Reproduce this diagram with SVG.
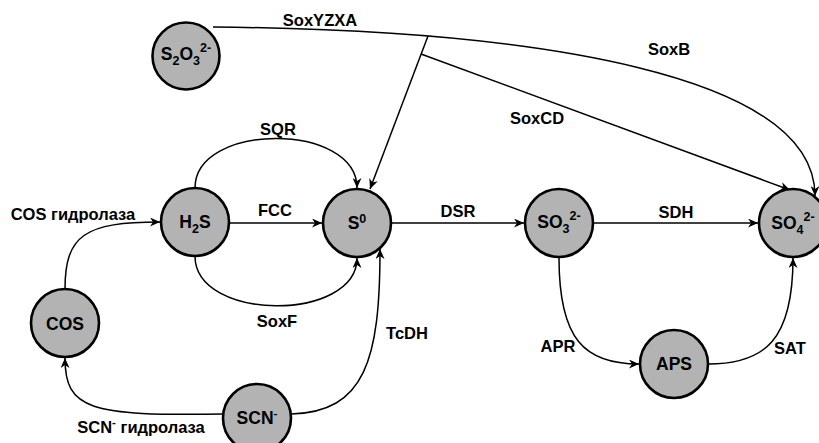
<svg xmlns="http://www.w3.org/2000/svg" width="819" height="443" viewBox="0 0 819 443">
<style>
.node{fill:#b3b3b3;stroke:#000;stroke-width:2.6}
.nt{font-family:"Liberation Sans",Arial,sans-serif;font-weight:bold;font-size:17.5px;text-anchor:middle;fill:#000}
.lb{font-family:"Liberation Sans",Arial,sans-serif;font-weight:bold;font-size:16.5px;text-anchor:middle;fill:#000}
.e{fill:none;stroke:#000;stroke-width:1.5}
.s{font-size:12.5px}
.ls{font-size:11.5px}
</style>
<defs>
<marker id="ar" markerUnits="userSpaceOnUse" markerWidth="11" markerHeight="9" refX="10" refY="4.5" orient="auto" viewBox="0 0 11 9">
<path d="M0,0 L10,4.5 L0,9 L3,4.5 z" fill="#000"/>
</marker>
</defs>
<rect width="819" height="443" fill="#fff"/>
<g id="connectors">
<path class="e" d="M213,27 C540,30 815,75 815,196" marker-end="url(#ar)"/>
<path class="e" d="M428,36 L370,189" marker-end="url(#ar)"/>
<path class="e" d="M421,54 L790,190" marker-end="url(#ar)"/>
<path class="e" d="M195,188 C195,122 357,122 357,188" marker-end="url(#ar)"/>
<path class="e" d="M229,223 L322,223" marker-end="url(#ar)"/>
<path class="e" d="M195,256 C195,322 357,322 357,258" marker-end="url(#ar)"/>
<path class="e" d="M65,289 C65,235 85,222 160,222" marker-end="url(#ar)"/>
<path class="e" d="M223,414 C90,416 65,410 65,358" marker-end="url(#ar)"/>
<path class="e" d="M291,414 C365,412 380,360 380,249" marker-end="url(#ar)"/>
<path class="e" d="M391,223 L524,223" marker-end="url(#ar)"/>
<path class="e" d="M593,223 L758,223" marker-end="url(#ar)"/>
<path class="e" d="M559,258 C559,340 585,364 639,364" marker-end="url(#ar)"/>
<path class="e" d="M708,364 C765,364 793,340 793,258" marker-end="url(#ar)"/>
</g>
<g id="labels">
<text class="lb" x="320" y="26">SoxYZXA</text>
<text class="lb" x="669" y="55">SoxB</text>
<text class="lb" x="537" y="124">SoxCD</text>
<text class="lb" x="278" y="135">SQR</text>
<text class="lb" x="275" y="216">FCC</text>
<text class="lb" x="277" y="327">SoxF</text>
<text class="lb" x="407" y="339">TcDH</text>
<text class="lb" x="73" y="220">COS гидролаза</text>
<text class="lb" x="141" y="433">SCN<tspan class="ls" dy="-7">-</tspan><tspan dy="7"> гидролаза</tspan></text>
<text class="lb" x="458" y="217">DSR</text>
<text class="lb" x="676" y="218">SDH</text>
<text class="lb" x="558" y="352">APR</text>
<text class="lb" x="790" y="354">SAT</text>
</g>
<g id="n-s2o3">
<circle class="node" cx="186" cy="56" r="33.5"/>
<text class="nt" x="186" y="60">S<tspan class="s" dy="5">2</tspan><tspan dy="-5">O</tspan><tspan class="s" dy="5">3</tspan><tspan class="s" dy="-13">2-</tspan></text>
</g>
<g id="n-h2s">
<circle class="node" cx="195" cy="222" r="34"/>
<text class="nt" x="195" y="228">H<tspan class="s" dy="5">2</tspan><tspan dy="-5">S</tspan></text>
</g>
<g id="n-s0">
<circle class="node" cx="357" cy="223" r="34"/>
<text class="nt" x="357" y="229">S<tspan class="s" dy="-6">0</tspan></text>
</g>
<g id="n-so3">
<circle class="node" cx="559" cy="223" r="34"/>
<text class="nt" x="559" y="228">SO<tspan class="s" dy="5">3</tspan><tspan class="s" dy="-13">2-</tspan></text>
</g>
<g id="n-so4">
<circle class="node" cx="793" cy="223" r="34"/>
<text class="nt" x="793" y="229">SO<tspan class="s" dy="5">4</tspan><tspan class="s" dy="-13">2-</tspan></text>
</g>
<g id="n-cos">
<circle class="node" cx="65" cy="323" r="34"/>
<text class="nt" x="65" y="330">COS</text>
</g>
<g id="n-aps">
<circle class="node" cx="674" cy="364" r="34"/>
<text class="nt" x="674" y="370">APS</text>
</g>
<g id="n-scn">
<circle class="node" cx="257" cy="418" r="34"/>
<text class="nt" x="257" y="424">SCN<tspan class="ls" dy="-7">-</tspan></text>
</g>
</svg>
